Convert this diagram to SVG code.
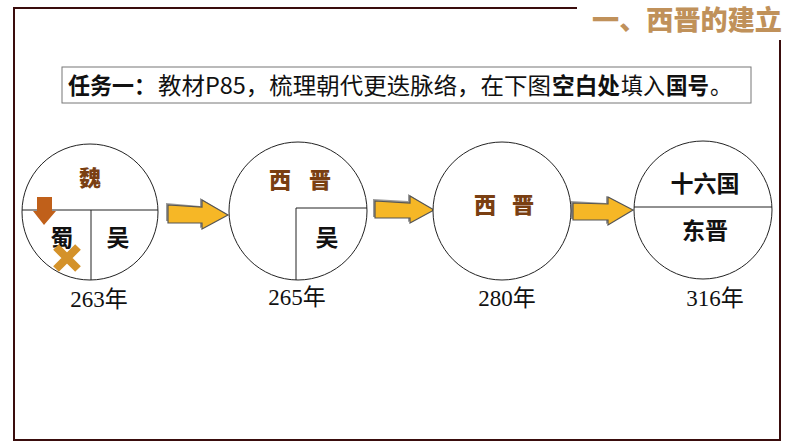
<svg xmlns="http://www.w3.org/2000/svg" width="794" height="447" viewBox="0 0 794 447">
<style>
.frame{fill:none;stroke:#3a0d0d;stroke-width:2}
.circ{fill:#fff;stroke:#222;stroke-width:1}
.div{stroke:#222;stroke-width:1;fill:none}
.cjk{font-family:"Noto Sans CJK SC","Noto Sans",sans-serif}
.task{font-family:"Noto Sans CJK SC","Noto Sans",sans-serif;font-size:23px;fill:#111}
.b{font-weight:700}
.brown{font-family:"Noto Sans CJK SC",sans-serif;font-weight:900;fill:#7a3f12;font-size:22px;text-anchor:middle}
.blk{font-family:"Noto Sans CJK SC",sans-serif;font-weight:700;fill:#111;font-size:23px;text-anchor:middle}
.year{font-family:"Liberation Serif","Noto Sans CJK SC",serif;font-size:23px;fill:#111;text-anchor:middle}
.arr{fill:#f6b726;stroke:#555;stroke-width:1.2;stroke-linejoin:miter}
.arrsh{fill:#9a9a9a}
</style>
<rect width="794" height="447" fill="#fff"/>
<g id="frame">
<path class="frame" d="M577,8 H14 V440 H780 V40"/>
<text x="592" y="30" class="cjk" font-size="27" font-weight="900" fill="#c0915a" textLength="190" lengthAdjust="spacingAndGlyphs">一、西晋的建立</text>
</g>
<g id="task">
<rect x="62" y="67" width="689" height="36" fill="#fff" stroke="#777" stroke-width="1"/>
<text x="68" y="94" class="task b" textLength="88" lengthAdjust="spacingAndGlyphs">任务一：</text>
<text x="158" y="94" class="task" textLength="393" lengthAdjust="spacingAndGlyphs">教材P85，梳理朝代更迭脉络，在下图</text>
<text x="552" y="94" class="task b" textLength="68" lengthAdjust="spacingAndGlyphs">空白处</text>
<text x="621" y="94" class="task" textLength="44" lengthAdjust="spacingAndGlyphs">填入</text>
<text x="666" y="94" class="task b" textLength="43" lengthAdjust="spacingAndGlyphs">国号</text>
<text x="710" y="94" class="task" textLength="22" lengthAdjust="spacingAndGlyphs">。</text>
</g>
<g id="connectors">
<polygon class="arrsh" points="166,203 200,206 200,198 226,214 200,228 200,221 166,221"/>
<polygon class="arr" points="168,205 202,207 202,200 228,215 202,229 202,223 168,223"/>
<polygon class="arrsh" points="373,199 408,201 408,194 432,209 408,222 408,217 373,217"/>
<polygon class="arr" points="375,201 410,203 410,196 434,210 410,223 410,218 375,218"/>
<polygon class="arrsh" points="571,201 606,203 606,196 631,209 606,224 606,219 571,219"/>
<polygon class="arr" points="573,203 608,204 608,197 633,210 608,225 608,220 573,220"/>
</g>
<g id="n263">
<circle class="circ" cx="90" cy="212" r="68"/>
<path class="div" d="M22,210 H158 M91,210 V280"/>
<text x="90" y="186" class="brown">魏</text>
<text x="62" y="246" class="blk">蜀</text>
<text x="118" y="246" class="blk">吴</text>
<polygon points="37,197 52,197 52,211 56,211 44,225 33,211 37,211" fill="#c0601a"/>
<path d="M56,247 L78,269 M78,247 L56,269" stroke="#d4922a" stroke-width="8" stroke-linecap="butt"/>
<text x="99" y="307" class="year">263年</text>
</g>
<g id="n265">
<circle class="circ" cx="298" cy="211" r="69"/>
<path class="div" d="M296,208 H367 M296,208 V280"/>
<text x="280" y="188" class="brown">西</text>
<text x="320" y="188" class="brown">晋</text>
<text x="327" y="246" class="blk">吴</text>
<text x="297" y="305" class="year">265年</text>
</g>
<g id="n280">
<circle class="circ" cx="502" cy="211" r="69"/>
<text x="485" y="213" class="brown">西</text>
<text x="523" y="213" class="brown">晋</text>
<text x="507" y="306" class="year">280年</text>
</g>
<g id="n316">
<circle class="circ" cx="703" cy="210" r="69"/>
<path class="div" d="M634,207 H772"/>
<text x="705" y="192" class="blk">十六国</text>
<text x="705" y="239" class="blk">东晋</text>
<text x="715" y="306" class="year">316年</text>
</g>
</svg>
